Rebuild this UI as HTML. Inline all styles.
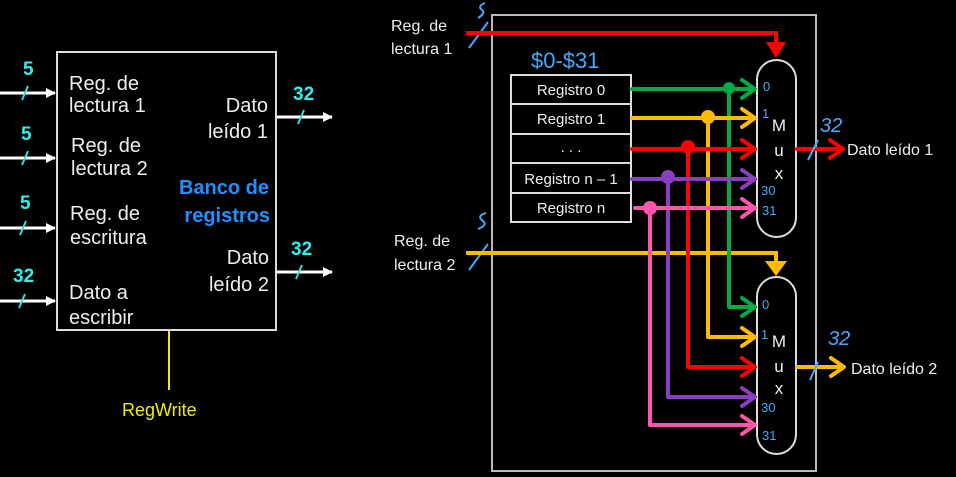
<!DOCTYPE html>
<html><head><meta charset="utf-8"><style>
html,body{margin:0;padding:0;background:#000;}
svg{display:block;}
text{font-family:"Liberation Sans",sans-serif;}
</style></head><body>
<svg width="956" height="477" viewBox="0 0 956 477" xmlns="http://www.w3.org/2000/svg">
<defs>
<marker id="wa" markerWidth="10" markerHeight="10" refX="9" refY="5" orient="auto" markerUnits="userSpaceOnUse"><path d="M0,0 L10,5 L0,10 z" fill="#fff"/></marker>
</defs>
<rect width="956" height="477" fill="#000"/>
<!-- LEFT -->
<rect x="57" y="52" width="219" height="278" fill="none" stroke="#ddd" stroke-width="2"/>
<g stroke="#fff" stroke-width="3" marker-end="url(#wa)">
<line x1="0" y1="93" x2="55" y2="93"/>
<line x1="0" y1="158" x2="55" y2="158"/>
<line x1="0" y1="228" x2="55" y2="228"/>
<line x1="0" y1="301" x2="55" y2="301"/>
<line x1="277" y1="117" x2="332" y2="117"/>
<line x1="277" y1="272" x2="332" y2="272"/>
</g>
<g stroke="#3dd" stroke-width="2">
<line x1="22" y1="100" x2="28" y2="86"/>
<line x1="22" y1="165" x2="28" y2="151"/>
<line x1="20" y1="235" x2="26" y2="221"/>
<line x1="19" y1="308" x2="25" y2="294"/>
<line x1="298" y1="124" x2="304" y2="110"/>
<line x1="296" y1="279" x2="302" y2="265"/>
</g>
<g fill="#3ee" font-weight="bold" font-size="19">
<text x="23" y="75">5</text>
<text x="21" y="140">5</text>
<text x="20" y="209">5</text>
<text x="13" y="282">32</text>
<text x="293" y="100">32</text>
<text x="291" y="255">32</text>
</g>
<g fill="#eee" font-size="20">
<text x="69" y="90">Reg. de</text><text x="69" y="112">lectura 1</text>
<text x="71" y="152">Reg. de</text><text x="71" y="175">lectura 2</text>
<text x="70" y="220">Reg. de</text><text x="70" y="244">escritura</text>
<text x="69" y="299">Dato a</text><text x="69" y="324">escribir</text>
<text x="268" y="112" text-anchor="end">Dato</text><text x="268" y="138" text-anchor="end">leído 1</text>
<text x="269" y="264" text-anchor="end">Dato</text><text x="269" y="291" text-anchor="end">leído 2</text>
</g>
<g fill="#1e90ff" font-weight="bold" font-size="20" text-anchor="end">
<text x="269" y="194">Banco de</text><text x="270" y="222">registros</text>
</g>
<line x1="169" y1="331" x2="169" y2="390" stroke="#ee0" stroke-width="2"/>
<text x="122" y="416" fill="#ee0" font-size="18">RegWrite</text>

<!-- RIGHT -->
<rect x="492" y="15" width="324" height="456" fill="none" stroke="#bbb" stroke-width="2"/>
<g fill="#eee" font-size="16">
<text x="391" y="31">Reg. de</text><text x="391" y="54">lectura 1</text>
<text x="394" y="246">Reg. de</text><text x="394" y="270">lectura 2</text>
</g>
<g stroke="#4af" stroke-width="2" fill="none">
<line x1="469" y1="48" x2="488" y2="22"/>
<line x1="469" y1="270" x2="488" y2="244"/>
<path d="M485,3 q-8,3 -3,7 q4,3 -4,8"/>
<path d="M486,213 q-10,3 -3,8 q5,4 -5,8"/>
</g>
<path d="M466,33 L776,33 L776,46" stroke="#f00" stroke-width="4" fill="none"/>
<path d="M766,42 L786,42 L776,58 z" fill="#f00"/>
<path d="M466,253 L776,253 L776,263" stroke="#fb0" stroke-width="4" fill="none"/>
<path d="M765,261 L787,261 L776,276 z" fill="#fb0"/>
<g fill="none" stroke="#ddd" stroke-width="2">
<rect x="511" y="75" width="120" height="147"/>
<line x1="511" y1="104" x2="631" y2="104"/>
<line x1="511" y1="134" x2="631" y2="134"/>
<line x1="511" y1="163" x2="631" y2="163"/>
<line x1="511" y1="193" x2="631" y2="193"/>
</g>
<g fill="#eee" font-size="15" text-anchor="middle">
<text x="571" y="95">Registro 0</text>
<text x="571" y="124">Registro 1</text>
<text x="571" y="152">. . .</text>
<text x="571" y="184">Registro n –  1</text>
<text x="571" y="213">Registro n</text>
</g>
<text x="531" y="68" fill="#4af" font-size="22">$0-$31</text>
<rect x="757" y="60" width="39" height="177" rx="19.5" fill="#000" stroke="#ddd" stroke-width="2"/>
<rect x="757" y="277" width="39" height="177" rx="19.5" fill="#000" stroke="#ddd" stroke-width="2"/>
<g fill="#eee" font-size="17" text-anchor="middle">
<text x="779" y="131">M</text><text x="779" y="156">u</text><text x="779" y="179">x</text>
<text x="779" y="347">M</text><text x="779" y="372">u</text><text x="779" y="394">x</text>
</g>
<g fill="#4af" font-size="13">
<text x="763" y="91">0</text><text x="762" y="118">1</text><text x="761" y="195">30</text><text x="762" y="215">31</text>
<text x="762" y="309">0</text><text x="761" y="339">1</text><text x="761" y="412">30</text><text x="762" y="440">31</text>
</g>
<g fill="none" stroke-width="4" stroke-linejoin="round" stroke-linecap="round">
<g stroke="#0a4"><path d="M632,89 L755,89"/><path d="M729,89 L729,307 L755,307"/><path d="M742,80 L755,89 L742,98"/><path d="M742,298 L755,307 L742,316"/></g>
<g stroke="#fb0"><path d="M632,118 L755,118"/><path d="M708,118 L708,337 L755,337"/><path d="M742,109 L755,118 L742,127"/><path d="M742,328 L755,337 L742,346"/></g>
<g stroke="#f00"><path d="M632,149 L755,149"/><path d="M688,149 L688,367 L755,367"/><path d="M742,140 L755,149 L742,158"/><path d="M742,358 L755,367 L742,376"/></g>
<g stroke="#8a3fc0"><path d="M632,179 L755,179"/><path d="M668,179 L668,397 L755,397"/><path d="M742,170 L755,179 L742,188"/><path d="M742,388 L755,397 L742,406"/></g>
<g stroke="#f5a"><path d="M635,208 L755,208"/><path d="M650,208 L650,425 L755,425"/><path d="M742,199 L755,208 L742,217"/><path d="M742,416 L755,425 L742,434"/></g>
<g stroke="#f00"><path d="M797,149 L842,149"/><path d="M830,140 L843,149 L830,158"/></g>
<g stroke="#fb0"><path d="M797,367 L843,367"/><path d="M831,358 L844,367 L831,376"/></g>
</g>
<circle cx="729" cy="88" r="6" fill="#0a4"/>
<circle cx="708" cy="117" r="7" fill="#fb0"/>
<circle cx="688" cy="147" r="7" fill="#f00"/>
<circle cx="668" cy="177" r="7" fill="#8a3fc0"/>
<circle cx="650" cy="208" r="7" fill="#f5a"/>
<g stroke="#4af" stroke-width="2" fill="none">
<line x1="808" y1="160" x2="818" y2="140"/>
<line x1="810" y1="380" x2="818" y2="362"/>
</g>
<g fill="#4af" font-size="20" font-style="italic">
<text x="820" y="132">32</text><text x="828" y="345">32</text>
</g>
<g fill="#eee" font-size="16">
<text x="847" y="155">Dato leído 1</text>
<text x="851" y="374">Dato leído 2</text>
</g>
</svg>
</body></html>
